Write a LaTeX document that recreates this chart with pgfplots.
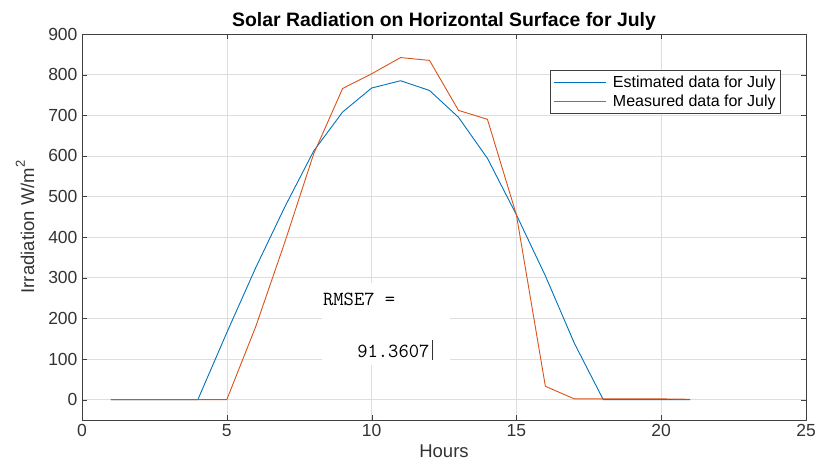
\documentclass[border=0pt]{standalone}
\usepackage{pgfplots}
\pgfplotsset{compat=1.18}
\usepackage{fontspec}
\setmainfont{Liberation Sans}
\definecolor{mblue}{rgb}{0,0.447,0.741}
\definecolor{morange}{rgb}{0.850,0.325,0.098}
\begin{document}
\begin{tikzpicture}
\begin{axis}[
  scale only axis,
  width=724pt, height=386pt,
  xmin=0, xmax=25, ymin=-50, ymax=900,
  xtick={0,5,...,25}, ytick={0,100,...,900},
  grid=major, grid style={draw=black!13, line width=0.6pt},
  axis line style={draw=black!75, line width=0.6pt},
  tick style={draw=black!75},
  tick align=inside, major tick length=5pt,
  ticklabel style={font=\fontsize{17.5}{19}\selectfont, text=black!80},
  yticklabel style={xshift=-1pt},
  xticklabel style={yshift=-1pt},
  /pgf/number format/assume math mode=true,
  title={\textbf{Solar Radiation on Horizontal Surface for July}},
  title style={font=\fontsize{19.4}{21}\selectfont, yshift=-6pt},
  xlabel={Hours}, ylabel={Irradiation W/m\raisebox{0.5em}{\fontsize{13}{13}\selectfont 2}},
  label style={font=\fontsize{18.5}{20}\selectfont, text=black!80},
  xlabel style={yshift=-1pt},
  ylabel style={yshift=7pt},
  legend style={at={(rel axis cs:0.9655,0.9067)}, anchor=north east,
    font=\fontsize{16}{19}\selectfont, draw=black!75, line width=0.6pt,
    inner xsep=3pt, inner ysep=4pt, row sep=1pt},
  legend image code/.code={\draw[#1] (0pt,0pt) -- (52pt,0pt); \path (57pt,0pt);},
  legend cell align=left,
  clip=false,
]
\addplot[mblue, line width=0.9pt] coordinates {
(1,0)(2,0)(3,0)(4,0)(5,165)(6,325)(7,474)(8,612)(9,708)(10,767)(11,785)(12,761)(13,695)(14,594)(15,455)(16,305)(17,139)(18,0)(19,0)(20,0)(21,0)};
\addlegendentry{Estimated data for July}
\addplot[morange, line width=0.9pt] coordinates {
(1,0)(2,0)(3,0)(4,0)(5,0)(6,180)(7,387)(8,605)(9,766)(10,802)(11,842)(12,835)(13,712)(14,690)(15,455)(16,33)(17,2)(18,2)(19,2)(20,2)(21,1)};
\addlegendentry{Measured data for July}
\fill[white] (axis cs:8.3,86) rectangle (axis cs:12.7,288);
\node[anchor=west, font=\ttfamily\fontsize{20}{21}\selectfont, inner sep=0pt] at (axis cs:8.32,247) {RMSE7 =};
\node[anchor=west, font=\ttfamily\fontsize{20}{21}\selectfont, inner sep=0pt] at (axis cs:9.5,118) {91.3607};
\draw[black!80, line width=0.6pt] (axis cs:12.09,98) -- (axis cs:12.09,146);
\coordinate (SW) at (rel axis cs:0,0);
\coordinate (NE) at (rel axis cs:1,1);
\end{axis}
\pgfresetboundingbox
\path ([shift={(-82pt,-43pt)}]SW) rectangle ([shift={(13pt,34pt)}]NE);
\end{tikzpicture}
\end{document}
